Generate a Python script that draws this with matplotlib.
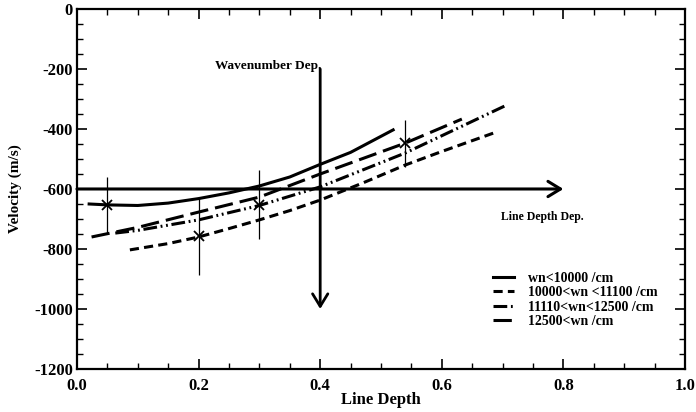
import numpy as np
import matplotlib
matplotlib.use("Agg")
import matplotlib.pyplot as plt
from matplotlib.ticker import MultipleLocator

plt.rcParams['font.family'] = ['Liberation Serif', 'DejaVu Serif']
plt.rcParams['font.weight'] = 'bold'
plt.rcParams['axes.unicode_minus'] = False

# curves
x_wn1 = [0.02, 0.05, 0.1, 0.15, 0.2, 0.25, 0.3, 0.35, 0.4, 0.45, 0.52]
y_wn1 = [-650, -653, -655, -647, -632, -613, -590, -560, -518, -478, -403]

x_wn2 = [0.087, 0.15, 0.2, 0.25, 0.3, 0.35, 0.4, 0.47, 0.54, 0.6, 0.69]
y_wn2 = [-803, -782, -760, -732, -703, -672, -637, -580, -520, -475, -410]

x_wn3 = [0.063, 0.1, 0.2, 0.3, 0.4, 0.54, 0.707]
y_wn3 = [-747, -738, -703, -655, -593, -480, -320]

x_wn4 = [0.024, 0.1, 0.2, 0.3, 0.4, 0.54, 0.633]
y_wn4 = [-760, -728, -677, -627, -550, -447, -367]

labels = ['wn<10000 /cm', '10000<wn <11100 /cm', '11110<wn<12500 /cm', '12500<wn /cm']

# measured points with error bars
x_obs = [0.05, 0.2, 0.3, 0.54]
y_obs = [-653, -757, -652, -448]
err_obs = [93, 130, 115, 78]

fig = plt.figure(figsize=(6.96, 4.12), dpi=100)
ax = fig.add_axes([0.1106, 0.1044, 0.8736, 0.8738])

lw = 2.2
ax.plot(x_wn1, y_wn1, color='black', lw=lw, ls='-', label=labels[0])
ax.plot(x_wn2, y_wn2, color='black', lw=lw, ls=(0, (3.0, 1.7)), label=labels[1])
ax.plot(x_wn3, y_wn3, color='black', lw=lw, ls=(0, (4.5, 1.2, 0.6, 1.2, 0.6, 1.2)), label=labels[2])
ax.plot(x_wn4, y_wn4, color='black', lw=lw, ls=(0, (6.0, 2.3)), label=labels[3])

ax.errorbar(x_obs, y_obs, yerr=err_obs, fmt='x', color='black', ms=7, mew=1.3,
            elinewidth=0.9, capsize=0)

# the two arrows
ax.annotate('', xy=(0.8, -600), xytext=(0.0, -600),
            arrowprops=dict(arrowstyle='->,head_length=0.9,head_width=0.55',
                            lw=2.2, color='black', shrinkA=0, shrinkB=0))
ax.annotate('', xy=(0.4, -1000), xytext=(0.4, -200),
            arrowprops=dict(arrowstyle='->,head_length=0.9,head_width=0.55',
                            lw=2.0, color='black', shrinkA=0, shrinkB=0))

ax.text(0.314, -190, 'Wavenumber Dep.', ha='center', va='center', fontsize=9.5, fontweight='bold')
ax.text(0.697, -693, 'Line Depth Dep.', ha='left', va='center', fontsize=8.5, fontweight='bold')

ax.set_xlim(0, 1.0)
ax.set_ylim(-1200, 0)
ax.xaxis.set_major_locator(MultipleLocator(0.2))
ax.xaxis.set_minor_locator(MultipleLocator(0.05))
ax.yaxis.set_major_locator(MultipleLocator(200))
ax.yaxis.set_minor_locator(MultipleLocator(50))
ax.xaxis.set_major_formatter(matplotlib.ticker.FormatStrFormatter('%.1f'))

ax.tick_params(which='both', direction='in', top=True, right=True, labelsize=12)
ax.tick_params(which='major', length=7, width=1.2)
ax.tick_params(which='minor', length=4, width=1.0)
ax.tick_params(axis='x', pad=6.5)
ax.tick_params(axis='y', pad=3)
for s in ax.spines.values():
    s.set_linewidth(1.6)

ax.set_xlabel('Line Depth', fontsize=12, fontweight='bold', va='center')
ax.xaxis.set_label_coords(0.5, -0.086)
ax.set_ylabel('Velocity (m/s)', fontsize=11, fontweight='bold', va='center')
ax.yaxis.set_label_coords(-0.102, 0.5)

ax.legend(loc='upper left', bbox_to_anchor=(0.685, 0.27), frameon=False,
          fontsize=10, handlelength=1.5, handletextpad=1.0, labelspacing=0.1,
          borderaxespad=0, borderpad=0)

fig.savefig('out.png', dpi=100)
